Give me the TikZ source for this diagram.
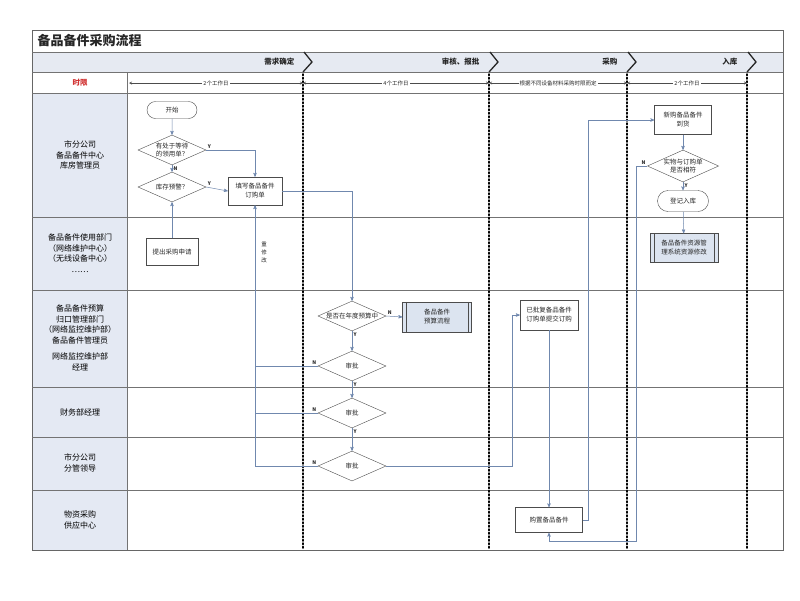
\documentclass[tikz,border=0pt]{standalone}
\usepackage{fontspec}
\setmainfont{Noto Sans CJK SC}
\usepackage{tikz}
\usetikzlibrary{arrows,shapes.geometric,shapes.misc}
\definecolor{hdrfill}{HTML}{E6EAF2}
\definecolor{colfill}{HTML}{E4E9F3}
\definecolor{procblue}{HTML}{DCE4F0}
\definecolor{linkblue}{HTML}{7088AE}
\definecolor{redtxt}{HTML}{D03030}
\newcommand{\fs}[2]{\fontsize{#1}{#2}\selectfont}

\begin{document}
\begin{tikzpicture}[x=1pt,y=-1pt,>=stealth',
  every node/.style={font=\fs{6.5}{9}, align=center, text=black!85},
  box/.style={draw=black!70, rectangle, minimum width=54, minimum height=28, inner sep=1pt},
  proc/.style={box, fill=procblue},
  term/.style={draw=black!70, rounded rectangle, minimum width=52, minimum height=17, inner sep=1pt},
  dia/.style={draw=black!70, diamond, aspect=2.3, inner sep=0pt, minimum width=68, minimum height=30, font=\fs{6.5}{8}},
  flow/.style={draw=linkblue, ->, line width=0.5pt},
  yn/.style={font=\fs{5}{6}\bfseries, inner sep=1.5pt},
  lane/.style={draw=black!55, line width=0.8pt},
  sep/.style={line width=1.5pt, dotted, line cap=round},
  chev/.style={line width=1.3pt, black!85},
  lanetxt/.style={font=\fs{8}{10.5}, text=black},
  hdr/.style={font=\fs{7.5}{9}\bfseries, anchor=east},
  timearr/.style={<->, >=stealth, line width=0.4pt, black!70},
  timetxt/.style={font=\fs{5.5}{6}, fill=white, inner sep=1pt}]
  \useasboundingbox (0,0) rectangle (800,600);
  \fill[hdrfill] (32,52) rectangle (783,72);
  \fill[colfill] (32,93) rectangle (127,550);
  \draw[black!60, line width=0.8pt] (32,30) rectangle (783,550);
  \foreach \y in {52,72,93,217,290,387,437,490} \draw[lane] (32,\y) -- (783,\y);
  \draw[lane] (127,72) -- (127,550);
  \foreach \x in {303,489,627,747} \draw[sep] (\x,74) -- (\x,550);
  \foreach \x in {303,489,627,747} \draw[chev] (\x+1,52) -- (\x+9,62) -- (\x,72);

  \node (title) [anchor=west, font=\fs{13}{15}\bfseries] at (34,41) {备品备件采购流程};
  \node (h1) [hdr] at (298,62) {需求确定};
  \node (h2) [hdr] at (483,62) {审核、报批};
  \node (h3) [hdr] at (621,62) {采购};
  \node (h4) [hdr] at (741,62) {入库};
  \node (limit) [font=\fs{7.5}{9}\bfseries, text=redtxt] at (80,83) {时限};

  \coordinate (b0) at (129,83);
  \coordinate (b1) at (303,83);
  \coordinate (b2) at (489,83);
  \coordinate (b3) at (627,83);
  \coordinate (b4) at (747,83);
  \draw[timearr] (b0) -- node[timetxt] (t1) {2个工作日} (b1);
  \draw[timearr] (b1) -- node[timetxt] (t2) {4个工作日} (b2);
  \draw[timearr] (b2) -- node[timetxt] (t3) {根据不同设备材料采购时限而定} (b3);
  \draw[timearr] (b3) -- node[timetxt] (t4) {2个工作日} (b4);

  \node (l1) [lanetxt] at (80,155) {市分公司\\备品备件中心\\库房管理员};
  \node (l2) [lanetxt] at (80,253) {备品备件使用部门\\（网络维护中心）\\（无线设备中心）\\……};
  \node (l3) [lanetxt] at (80,338) {备品备件预算\\归口管理部门\\（网络监控维护部）\\备品备件管理员\\[6pt]网络监控维护部\\经理};
  \node (l4) [lanetxt] at (80,412) {财务部经理};
  \node (l5) [lanetxt] at (80,463) {市分公司\\分管领导};
  \node (l6) [lanetxt] at (80,520) {物资采购\\供应中心};

  \node (start) [term] at (172,110) {开始};
  \node (wait) [dia] at (172,150) {有处于等待\\的领用单？};
  \node (warn) [dia] at (172,187) {库存预警？};
  \node (fill) [box] at (255,191) {填写备品备件\\订购单};
  \node (apply) [box, minimum width=52, minimum height=27] at (172,252) {提出采购申请};
  \node (redo) [font=\fs{5.5}{8}] at (264,252) {重\\修\\改};
  \node (budget) [dia] at (352,316) {是否在年度预算中};
  \node (bproc) [proc, minimum width=69, minimum height=30] at (437,317) {备品备件\\预算流程};
  \node (ap1) [dia] at (352,366) {审批};
  \node (ap2) [dia] at (352,413) {审批};
  \node (ap3) [dia] at (352,466) {审批};
  \node (order) [box, minimum width=58, minimum height=30] at (549,315) {已批复备品备件\\订购单提交订购};
  \node (buy) [box, minimum width=67, minimum height=25] at (549,520) {购置备品备件};
  \node (arrive) [box, minimum width=57, minimum height=29] at (683,120) {新购备品备件\\到货};
  \node (check) [dia, minimum width=66, minimum height=32] at (683,166) {实物与订购单\\是否相符};
  \node (store) [term, minimum width=53, minimum height=21] at (683,201) {登记入库};
  \node (sys) [proc, minimum width=68, minimum height=29] at (684,248) {备品备件资源管\\理系统资源修改};
  \draw[black!70] ([xshift=4]bproc.north west) -- ([xshift=4]bproc.south west)
                  ([xshift=-4]bproc.north east) -- ([xshift=-4]bproc.south east)
                  ([xshift=4]sys.north west) -- ([xshift=4]sys.south west)
                  ([xshift=-4]sys.north east) -- ([xshift=-4]sys.south east);

  \coordinate (c1) at (512,0);
  \coordinate (c2) at (588,0);
  \coordinate (c3) at (636,541);

  \draw[flow] (start) -- (wait);
  \draw[flow] (wait) -- (warn);
  \draw[flow] (wait.east) -| (fill.north);
  \draw[flow] (warn.east) -- (fill.west);
  \draw[flow] (apply.north) -- (warn.south);
  \draw[flow] (fill.east) -| (budget.north);
  \draw[flow] (budget.east) -- (bproc.west);
  \draw[flow] (budget) -- (ap1);
  \draw[flow] (ap1) -- (ap2);
  \draw[flow] (ap2) -- (ap3);
  \draw[flow] (ap3.west) -| (fill.south);
  \draw[flow, -] (ap1.west) -- (ap1.west -| fill.south);
  \draw[flow, -] (ap2.west) -- (ap2.west -| fill.south);
  \draw[flow] (ap3.east) -- (ap3.east -| c1) |- (order.west);
  \draw[flow] (order) -- (buy);
  \draw[flow] (buy.east) -- (buy.east -| c2) |- (arrive.west);
  \draw[flow] (arrive) -- (check);
  \draw[flow] (check.west) -| (c3) -| (buy.south);
  \draw[flow] (check) -- (store);
  \draw[flow] (store) -- (sys);

  \node (y1) [yn, above right] at (wait.east) {Y};
  \node (n1) [yn, below right] at (wait.south) {N};
  \node (y2) [yn, above right] at (warn.east) {Y};
  \node (n2) [yn, above right] at (budget.east) {N};
  \node (y3) [yn, below right] at (budget.south) {Y};
  \node (n3) [yn, above left] at (ap1.west) {N};
  \node (y4) [yn, below right] at (ap1.south) {Y};
  \node (n4) [yn, above left] at (ap2.west) {N};
  \node (y5) [yn, below right] at (ap2.south) {Y};
  \node (n5) [yn, above left] at (ap3.west) {N};
  \node (n6) [yn, above left] at (check.west) {N};
  \node (y6) [yn, below right] at (check.south) {Y};
\end{tikzpicture}
\end{document}
